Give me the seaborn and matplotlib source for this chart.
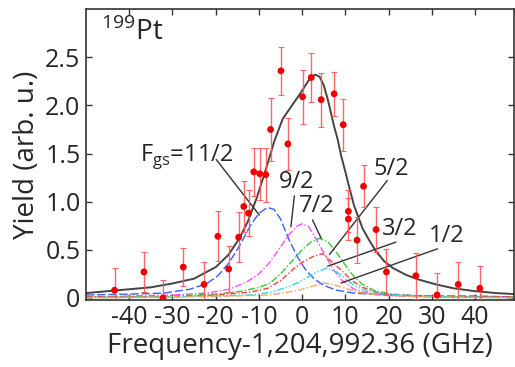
import numpy as np
import pandas as pd
from matplotlib import pyplot as plt
import seaborn as sns

# measured points (frequency offset, yield, error)
freq = [-43.4, -36.6, -32.2, -27.5, -22.7, -19.5, -17.0, -14.7, -13.5, -12.4, -11.2, -9.8, -8.4,
        -7.3, -4.9, -3.3, 0.1, 2.1, 4.4, 7.4, 9.5, 10.7, 10.7, 12.7, 14.2, 17.1, 19.5,
        26.3, 31.2, 36.1, 41.1]
yld = [0.08, 0.27, 0.0, 0.32, 0.14, 0.64, 0.30, 0.63, 0.95, 0.88, 1.31, 1.29, 1.28,
       1.75, 2.36, 1.60, 2.09, 2.29, 2.06, 2.12, 1.80, 0.90, 0.82, 0.60, 1.16, 0.71, 0.27,
       0.23, 0.03, 0.14, 0.10]
yerr = [0.23, 0.21, 0.19, 0.20, 0.23, 0.26, 0.24, 0.26, 0.26, 0.24, 0.25, 0.27, 0.28,
        0.33, 0.25, 0.27, 0.28, 0.25, 0.28, 0.23, 0.27, 0.22, 0.22, 0.24, 0.22, 0.23, 0.24,
        0.24, 0.23, 0.23, 0.23]

# total fit curve
tot_x = [-50, -45, -40, -35, -30, -25, -20, -17, -14.5, -12.5, -10.5, -8.5, -6.5, -4.5, -2.5,
         -0.5, 1.5, 3, 4, 5, 6, 7.4, 8.2, 9, 10, 11, 12, 13, 14, 15.5, 17, 19, 21, 24, 27,
         31, 35, 40, 45, 49]
tot_y = [0.05, 0.07, 0.09, 0.11, 0.15, 0.20, 0.32, 0.45, 0.62, 0.80, 1.04, 1.32, 1.62, 1.86, 1.99,
         2.12, 2.26, 2.32, 2.30, 2.21, 2.05, 1.78, 1.65, 1.48, 1.31, 1.13, 0.96, 0.84, 0.72, 0.60,
         0.49, 0.38, 0.31, 0.24, 0.19, 0.14, 0.10, 0.07, 0.05, 0.04]

# hyperfine components F_gs
c112_x = [-50, -40, -32, -26, -22, -19.5, -17, -14.5, -12, -10, -8, -6.5, -5, -3, -1, 1, 3, 5, 8,
          12, 16, 22, 30, 40, 49]
c112_y = [0.03, 0.04, 0.05, 0.09, 0.15, 0.23, 0.36, 0.54, 0.75, 0.88, 0.94, 0.92, 0.82, 0.60, 0.42,
          0.28, 0.19, 0.13, 0.08, 0.05, 0.04, 0.03, 0.02, 0.02, 0.01]
c92_x = [-50, -40, -30, -22, -17, -13, -10, -7.5, -5, -3, -1, 0, 1.5, 3, 5, 7, 9, 12, 16, 22, 30,
         40, 49]
c92_y = [0.01, 0.02, 0.03, 0.05, 0.09, 0.16, 0.25, 0.37, 0.53, 0.66, 0.75, 0.77, 0.74, 0.63, 0.47,
         0.31, 0.19, 0.09, 0.04, 0.02, 0.01, 0.01, 0.01]
c72_x = [-50, -40, -30, -20, -14, -10, -7.5, -5, -2, 0, 2, 4, 6, 8, 10, 12, 14, 17, 21, 27, 35, 49]
c72_y = [0.01, 0.01, 0.02, 0.04, 0.07, 0.11, 0.15, 0.25, 0.40, 0.50, 0.58, 0.62, 0.58, 0.47, 0.34,
         0.22, 0.14, 0.07, 0.04, 0.02, 0.01, 0.01]
c52_x = [-50, -40, -30, -20, -12, -8, -5, -2, 0, 2.5, 4.7, 7, 9, 11.5, 14, 17, 21, 27, 35, 49]
c52_y = [0.01, 0.01, 0.01, 0.03, 0.06, 0.10, 0.18, 0.30, 0.37, 0.43, 0.46, 0.37, 0.29, 0.18, 0.11,
         0.06, 0.03, 0.02, 0.01, 0.01]
c32_x = [-50, -30, -20, -12, -7, -3, 0, 3, 5.6, 8, 10, 12, 15, 19, 25, 35, 49]
c32_y = [0.0, 0.01, 0.02, 0.03, 0.06, 0.12, 0.18, 0.26, 0.31, 0.27, 0.20, 0.13, 0.07, 0.04, 0.02,
         0.01, 0.0]
c12_x = [-50, -30, -15, -8, -3, 0, 3, 5, 7, 10, 13, 17, 22, 30, 49]
c12_y = [0.0, 0.01, 0.02, 0.03, 0.06, 0.09, 0.13, 0.155, 0.14, 0.10, 0.06, 0.03, 0.02, 0.01, 0.0]

x_ticks = [-40, -30, -20, -10, 0, 10, 20, 30, 40]
y_ticks = [0, 0.5, 1.0, 1.5, 2.0, 2.5]
y_tick_labels = ["0", "0.5", "1.0", "1.5", "2.0", "2.5"]

sns.set_style("ticks")
plt.rcParams['font.family'] = ['Open Sans', 'DejaVu Sans']
plt.rcParams['mathtext.fontset'] = 'custom'
plt.rcParams['mathtext.rm'] = 'Open Sans'
plt.rcParams['axes.unicode_minus'] = False

fig = plt.figure(figsize=(5.15, 3.67), dpi=100)
ax = fig.add_axes([0.167, 0.183, 0.831, 0.792])

comps = [
    (c112_x, c112_y, "#3d5cff", (0, (6, 2))),
    (c92_x, c92_y, "#ff4cff", (0, (5, 1.5, 1, 1.5))),
    (c72_x, c72_y, "#33cc33", (0, (5, 1.5, 1, 1.5))),
    (c52_x, c52_y, "#ff3b3b", (0, (4, 1.5, 1, 1.5))),
    (c32_x, c32_y, "#22dddd", (0, (5, 1.5, 1, 1.5, 1, 1.5))),
    (c12_x, c12_y, "#f0a860", (0, (5, 1.5, 1, 1.5))),
]
for cx, cy, col, ls in comps:
    sns.lineplot(x=cx, y=cy, ax=ax, color=col, linestyle=ls, linewidth=1.0, sort=False)

sns.lineplot(x=tot_x, y=tot_y, ax=ax, color="#444444", linewidth=1.4, sort=False)

# data with error bars
ax.errorbar(freq, yld, yerr=yerr, fmt="none", ecolor="#ff5555", elinewidth=1.0,
            capsize=2, capthick=0.8, alpha=0.9, zorder=4)
sns.scatterplot(x=freq, y=yld, ax=ax, color="#ee0000", s=24, edgecolor="none", zorder=5)

# labels for the components
lc = "#333333"
fs = 17
ax.text(-37.5, 1.47, r"F$_{\rm gs}$=11/2", fontsize=fs, ha="left", va="center")
ax.plot([-19.9, -9.9], [1.44, 0.86], color=lc, lw=1.0)
ax.text(-1.3, 1.20, "9/2", fontsize=fs, ha="center", va="center")
ax.plot([-1.8, -2.6], [1.06, 0.74], color=lc, lw=1.0)
ax.text(3.4, 0.95, "7/2", fontsize=fs, ha="center", va="center")
ax.plot([2.4, 4.4], [0.81, 0.62], color=lc, lw=1.0)
ax.text(20.6, 1.34, "5/2", fontsize=fs, ha="center", va="center")
ax.plot([19.7, 6.3], [1.22, 0.45], color=lc, lw=1.0)
ax.text(22.6, 0.72, "3/2", fontsize=fs, ha="center", va="center")
ax.plot([21.7, 5.9], [0.58, 0.33], color=lc, lw=1.0)
ax.text(33.4, 0.64, "1/2", fontsize=fs, ha="center", va="center")
ax.plot([31.3, 9.0], [0.51, 0.155], color=lc, lw=1.0)

ax.text(0.035, 0.92, r"$^{199}$Pt", transform=ax.transAxes, fontsize=20, ha="left", va="center")

ax.set_xlim(-50, 49)
ax.set_ylim(-0.02, 3.0)
ax.set_xticks(x_ticks)
ax.set_yticks(y_ticks)
ax.set_yticklabels(y_tick_labels)
ax.tick_params(direction="in", length=4, width=1, top=True, right=True,
               labelsize=18, pad=4, color="#333333")
for sp in ax.spines.values():
    sp.set_color("#333333")
    sp.set_linewidth(1.2)
ax.set_xlabel("Frequency-1,204,992.36 (GHz)", fontsize=20, labelpad=1)
ax.set_ylabel("Yield (arb. u.)", fontsize=20, labelpad=3)

fig.savefig("out.png", dpi=100)
